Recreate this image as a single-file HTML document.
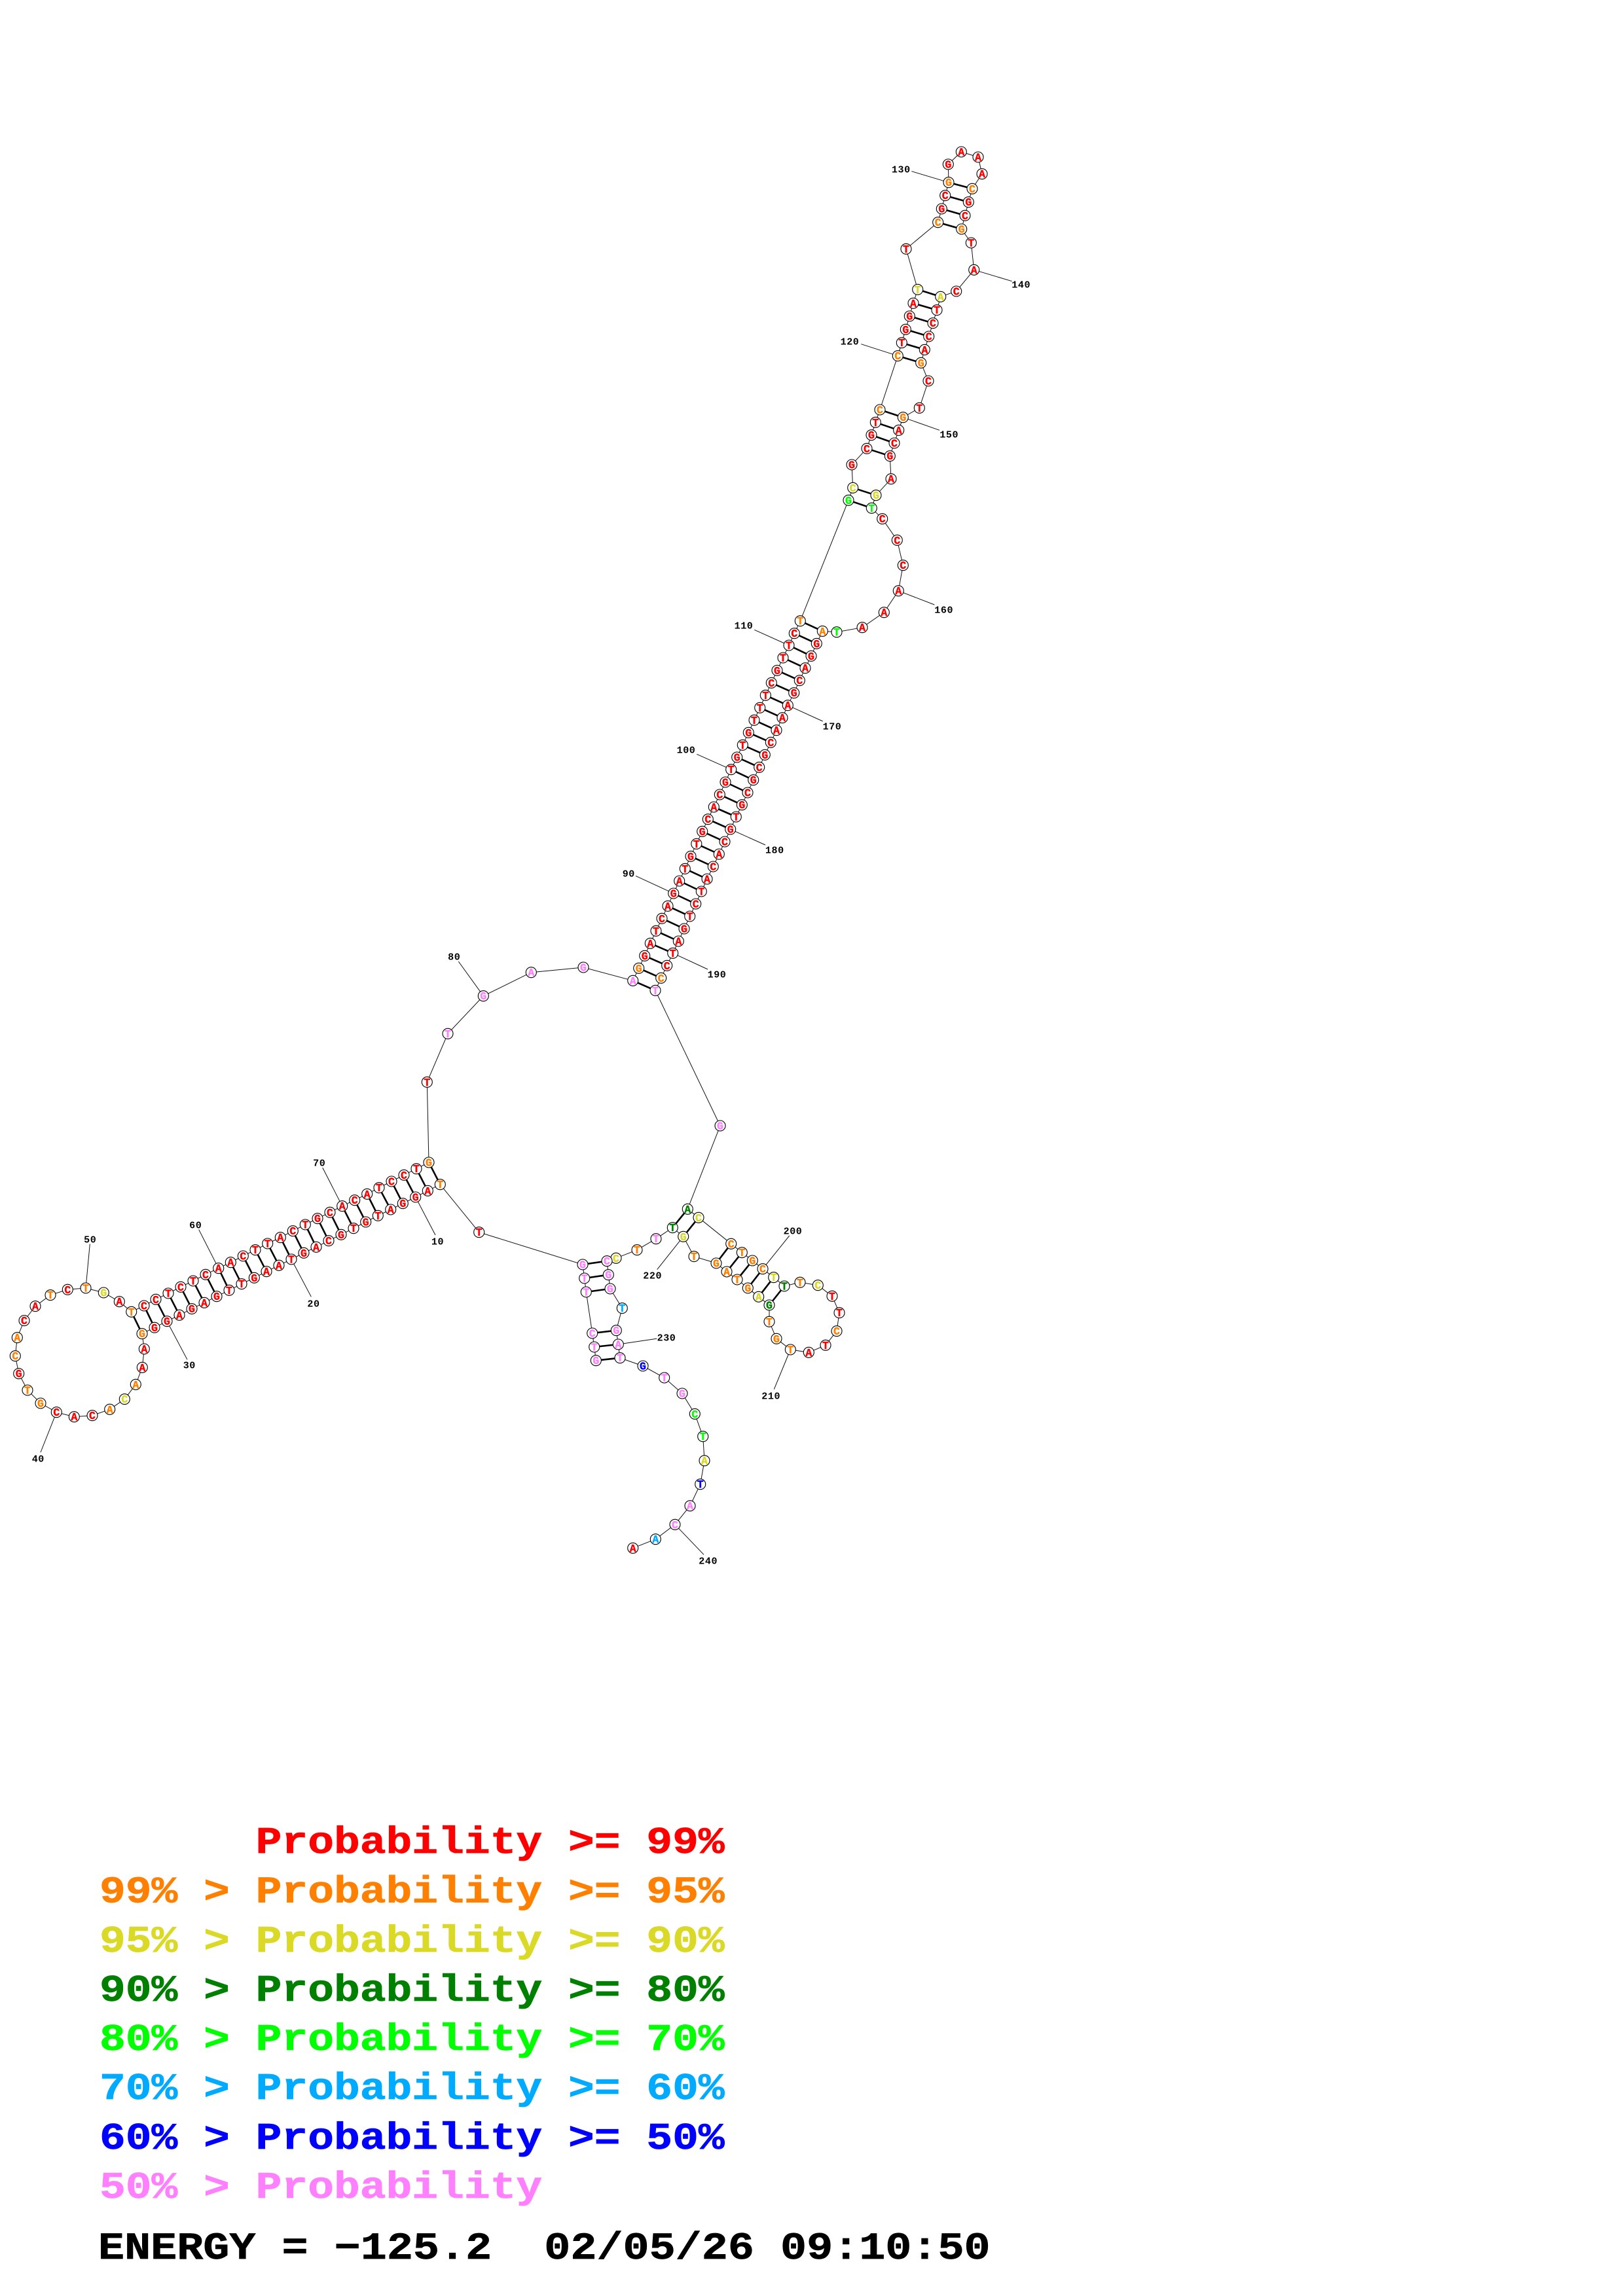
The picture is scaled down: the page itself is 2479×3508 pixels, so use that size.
<!DOCTYPE html>
<html><head><meta charset="utf-8"><title>RNA structure</title>
<style>
html,body{margin:0;padding:0;background:#fff}
svg{display:block}
.bb{fill:none;stroke:#111;stroke-width:1}
.bp{fill:none;stroke:#000;stroke-width:2.6}
.ld{fill:none;stroke:#111;stroke-width:1}
.cc circle{fill:#fff;stroke:#000;stroke-width:1.1}
.nt text{font:bold 16.5px "Liberation Mono",monospace;text-anchor:middle;fill:#f00;stroke:#f00;stroke-width:.4}
.nt .o{fill:#ff8000;stroke:#ff8000}.nt .y{fill:#d9d926;stroke:#d9d926}.nt .d{fill:#008000;stroke:#008000}.nt .g{fill:#0f0;stroke:#0f0}.nt .c{fill:#0af;stroke:#0af}.nt .b{fill:#00f;stroke:#00f}.nt .p{fill:#ff80ff;stroke:#ff80ff}
.lb text{font:bold 15px "Liberation Mono",monospace;letter-spacing:.6px;text-anchor:middle;fill:#000}
.lg text{font:bold 66.3px "Liberation Mono",monospace;white-space:pre;stroke-width:.8}
.lg text.en{font-size:66.8px}
</style></head><body>
<svg xmlns="http://www.w3.org/2000/svg" width="2479" height="3508" viewBox="0 0 2479 3508">
<rect width="2479" height="3508" fill="#fff"/>
<polyline class="bb" points="910.3,2078.7 907.7,2058 904.7,2037 895.3,1974 892.7,1953 890,1932 731.7,1882.7 672.3,1809.7 653.3,1819.3 634.7,1829 615.3,1838.7 596.7,1848 577.3,1857.3 558.7,1867 540,1876.7 521,1886.3 502,1895.7 483,1905.3 464,1914.3 445,1924 426,1933.3 407,1942.7 388.3,1952.3 369,1961.7 350,1971.3 331,1980.7 312,1990.3 293,1999.7 274,2009.3 255,2018.7 236,2028.3 217,2037.7 220.3,2061 217.3,2089.3 207.3,2115.3 190.3,2137.7 167.7,2153.3 141,2162.7 113.3,2164.7 86.3,2157.7 62,2144 42,2124 28.7,2098.7 23.3,2071.7 26.3,2043.7 37,2017.7 54,1995.7 77,1978.7 103.3,1970.3 131,1968 158.3,1975 182.3,1988.7 200.7,2004.3 220,1995 238,1985.3 257,1976 276,1966.3 295,1957 314,1947.3 333.7,1937.7 352.3,1928.7 371.3,1919 390,1909.7 408.7,1900 428.3,1890.7 447.3,1880.7 466.3,1871 485,1861.7 504,1852.3 522.7,1842.7 541.7,1833.7 560.7,1824.3 579,1814.7 598,1805 617,1795.3 636,1785.7 655,1776 652.3,1653.3 684,1579.3 738.3,1521.7 811.3,1485.7 891,1478 966.7,1498.3 975.7,1479.3 984.7,1460.3 993.3,1441.3 1002,1422.3 1011,1403.3 1020,1384.3 1028.7,1365 1037.7,1346 1046.3,1327.3 1055,1308.3 1063.8,1289.3 1072.7,1270.3 1081.3,1251.7 1090.3,1233 1099.3,1214 1108,1195 1116.7,1175.7 1125.7,1157 1134.3,1138.3 1143.3,1119.3 1152,1100.3 1160.7,1081.3 1169.3,1062.3 1178.3,1043.3 1187,1024.3 1196,1005 1205,986 1213.3,967.7 1222.3,948.7 1296,764.3 1302.7,745.3 1301,710 1324,685.3 1331,664.7 1337.3,645.3 1344,626 1371.3,543.7 1377.3,523.7 1383.3,503.3 1389.3,483 1395,463.3 1401.7,442.3 1384,380.3 1432.7,339.7 1438.3,319 1443.7,298.7 1449,278.7 1448.3,251 1468.3,232 1494,240 1500,265.7 1485,288.3 1479.3,308.7 1474,329.3 1468.7,350 1483.3,371 1487.7,412.3 1460.7,445 1436.7,453.3 1431,473.7 1425,493.7 1418.7,514 1412.3,534.3 1406.7,554.3 1418,582 1404.3,623.3 1379.3,637.7 1372.7,657.3 1366,677 1359.3,696.7 1361,731.7 1338,756.7 1331.3,776.3 1347.7,792.7 1370.3,825.3 1379.3,863.7 1372.3,902.7 1350.3,935.7 1317,958.7 1278,965.7 1256.3,964.3 1247.3,983.3 1239,1002.3 1230,1020.7 1221.3,1039.7 1212.7,1058.7 1203.3,1077.7 1195,1096.7 1186,1115.7 1177.3,1134.3 1168.3,1153.3 1159.7,1172.3 1150.7,1191.7 1142,1211 1133.3,1229.7 1124.3,1248 1115.7,1267 1107,1286 1098.3,1305 1089.3,1324 1080,1343 1071.3,1362 1062.7,1381 1053.7,1400 1045,1419 1036.3,1438 1027.7,1456.3 1018.7,1475.3 1009.7,1494.3 1001,1513.3 1100,1720 1050.3,1847.3 1067,1860.3 1116.7,1900.3 1133.3,1913.7 1149.3,1926 1165,1938.7 1181.7,1951.7 1198,1965 1222,1959.3 1249.3,1963.7 1271,1980.3 1282,2005.7 1278,2033.7 1261,2055.3 1235.3,2066.3 1207.3,2062 1186,2045.3 1175,2019.3 1175,1994 1158.7,1981.3 1142.3,1968 1126,1955 1110,1943 1094,1930 1060,1919.7 1043.7,1889.3 1027.3,1875.7 1002,1892.7 973,1909.7 941,1922.3 927,1926.7 929.3,1947.7 932,1969 950.3,1998.7 941.3,2032.7 944.3,2054 947,2074.7 982,2087 1014.7,2105 1042,2129 1061.3,2160.3 1073.7,2194.7 1076,2231.7 1069.7,2267.7 1054,2300.7 1031,2329.3 1001.3,2351.7 966.7,2365.3"/>
<path class="bp" d="M910.3 2078.7L947 2074.7M907.7 2058L944.3 2054M904.7 2037L941.3 2032.7M895.3 1974L932 1969M892.7 1953L929.3 1947.7M890 1932L927 1926.7M672.3 1809.7L655 1776M653.3 1819.3L636 1785.7M634.7 1829L617 1795.3M615.3 1838.7L598 1805M596.7 1848L579 1814.7M577.3 1857.3L560.7 1824.3M558.7 1867L541.7 1833.7M540 1876.7L522.7 1842.7M521 1886.3L504 1852.3M502 1895.7L485 1861.7M483 1905.3L466.3 1871M464 1914.3L447.3 1880.7M445 1924L428.3 1890.7M426 1933.3L408.7 1900M407 1942.7L390 1909.7M388.3 1952.3L371.3 1919M369 1961.7L352.3 1928.7M350 1971.3L333.7 1937.7M331 1980.7L314 1947.3M312 1990.3L295 1957M293 1999.7L276 1966.3M274 2009.3L257 1976M255 2018.7L238 1985.3M236 2028.3L220 1995M217 2037.7L200.7 2004.3M966.7 1498.3L1001 1513.3M975.7 1479.3L1009.7 1494.3M984.7 1460.3L1018.7 1475.3M993.3 1441.3L1027.7 1456.3M1002 1422.3L1036.3 1438M1011 1403.3L1045 1419M1020 1384.3L1053.7 1400M1028.7 1365L1062.7 1381M1037.7 1346L1071.3 1362M1046.3 1327.3L1080 1343M1055 1308.3L1089.3 1324M1063.8 1289.3L1098.3 1305M1072.7 1270.3L1107 1286M1081.3 1251.7L1115.7 1267M1090.3 1233L1124.3 1248M1099.3 1214L1133.3 1229.7M1108 1195L1142 1211M1116.7 1175.7L1150.7 1191.7M1125.7 1157L1159.7 1172.3M1134.3 1138.3L1168.3 1153.3M1143.3 1119.3L1177.3 1134.3M1152 1100.3L1186 1115.7M1160.7 1081.3L1195 1096.7M1169.3 1062.3L1203.3 1077.7M1178.3 1043.3L1212.7 1058.7M1187 1024.3L1221.3 1039.7M1196 1005L1230 1020.7M1205 986L1239 1002.3M1213.3 967.7L1247.3 983.3M1222.3 948.7L1256.3 964.3M1296 764.3L1331.3 776.3M1302.7 745.3L1338 756.7M1324 685.3L1359.3 696.7M1331 664.7L1366 677M1337.3 645.3L1372.7 657.3M1344 626L1379.3 637.7M1371.3 543.7L1406.7 554.3M1377.3 523.7L1412.3 534.3M1383.3 503.3L1418.7 514M1389.3 483L1425 493.7M1395 463.3L1431 473.7M1401.7 442.3L1436.7 453.3M1432.7 339.7L1468.7 350M1438.3 319L1474 329.3M1443.7 298.7L1479.3 308.7M1449 278.7L1485 288.3M1050.3 1847.3L1027.3 1875.7M1067 1860.3L1043.7 1889.3M1116.7 1900.3L1094 1930M1133.3 1913.7L1110 1943M1149.3 1926L1126 1955M1165 1938.7L1142.3 1968M1181.7 1951.7L1158.7 1981.3M1198 1965L1175 1994"/>
<path class="ld" d="M1449 278.7L1392.3 261.7M1371.3 543.7L1315.3 525.7M1487.7 412.3L1545.7 429.7M1379.3 637.7L1435 657.3M1372.3 902.7L1427.3 924M1205 986L1152.3 962.3M1203.3 1077.7L1256.7 1102M1115.7 1267L1169 1291M1116.7 1175.7L1064.3 1152.3M1028.7 1365L971 1338.3M1027.7 1456.3L1081 1481M738.3 1521.7L700.3 1469M634.7 1829L665 1887M522.7 1842.7L492.7 1784M445 1924L475.3 1981.3M333.7 1937.7L303.7 1878.7M131 1968L137.3 1900.7M255 2018.7L286 2077.3M86.3 2157.7L62 2219M1165 1938.7L1205.7 1888M1043.7 1889.3L1003.7 1939.7M944.3 2054L1003.3 2045.3M1207.3 2062L1182.3 2122.7M1031 2329.3L1075 2375.3"/>
<g class="cc">
<circle cx="910.3" cy="2078.7" r="8"/><circle cx="907.7" cy="2058" r="8"/><circle cx="904.7" cy="2037" r="8"/><circle cx="895.3" cy="1974" r="8"/><circle cx="892.7" cy="1953" r="8"/><circle cx="890" cy="1932" r="8"/><circle cx="731.7" cy="1882.7" r="8"/><circle cx="672.3" cy="1809.7" r="8"/><circle cx="653.3" cy="1819.3" r="8"/><circle cx="634.7" cy="1829" r="8"/><circle cx="615.3" cy="1838.7" r="8"/><circle cx="596.7" cy="1848" r="8"/><circle cx="577.3" cy="1857.3" r="8"/><circle cx="558.7" cy="1867" r="8"/><circle cx="540" cy="1876.7" r="8"/><circle cx="521" cy="1886.3" r="8"/><circle cx="502" cy="1895.7" r="8"/><circle cx="483" cy="1905.3" r="8"/><circle cx="464" cy="1914.3" r="8"/><circle cx="445" cy="1924" r="8"/><circle cx="426" cy="1933.3" r="8"/><circle cx="407" cy="1942.7" r="8"/><circle cx="388.3" cy="1952.3" r="8"/><circle cx="369" cy="1961.7" r="8"/><circle cx="350" cy="1971.3" r="8"/><circle cx="331" cy="1980.7" r="8"/><circle cx="312" cy="1990.3" r="8"/><circle cx="293" cy="1999.7" r="8"/><circle cx="274" cy="2009.3" r="8"/><circle cx="255" cy="2018.7" r="8"/><circle cx="236" cy="2028.3" r="8"/><circle cx="217" cy="2037.7" r="8"/><circle cx="220.3" cy="2061" r="8"/><circle cx="217.3" cy="2089.3" r="8"/><circle cx="207.3" cy="2115.3" r="8"/><circle cx="190.3" cy="2137.7" r="8"/><circle cx="167.7" cy="2153.3" r="8"/><circle cx="141" cy="2162.7" r="8"/><circle cx="113.3" cy="2164.7" r="8"/><circle cx="86.3" cy="2157.7" r="8"/><circle cx="62" cy="2144" r="8"/><circle cx="42" cy="2124" r="8"/><circle cx="28.7" cy="2098.7" r="8"/><circle cx="23.3" cy="2071.7" r="8"/><circle cx="26.3" cy="2043.7" r="8"/><circle cx="37" cy="2017.7" r="8"/><circle cx="54" cy="1995.7" r="8"/><circle cx="77" cy="1978.7" r="8"/><circle cx="103.3" cy="1970.3" r="8"/><circle cx="131" cy="1968" r="8"/><circle cx="158.3" cy="1975" r="8"/><circle cx="182.3" cy="1988.7" r="8"/><circle cx="200.7" cy="2004.3" r="8"/><circle cx="220" cy="1995" r="8"/><circle cx="238" cy="1985.3" r="8"/><circle cx="257" cy="1976" r="8"/><circle cx="276" cy="1966.3" r="8"/><circle cx="295" cy="1957" r="8"/><circle cx="314" cy="1947.3" r="8"/><circle cx="333.7" cy="1937.7" r="8"/><circle cx="352.3" cy="1928.7" r="8"/><circle cx="371.3" cy="1919" r="8"/><circle cx="390" cy="1909.7" r="8"/><circle cx="408.7" cy="1900" r="8"/><circle cx="428.3" cy="1890.7" r="8"/><circle cx="447.3" cy="1880.7" r="8"/><circle cx="466.3" cy="1871" r="8"/><circle cx="485" cy="1861.7" r="8"/><circle cx="504" cy="1852.3" r="8"/><circle cx="522.7" cy="1842.7" r="8"/><circle cx="541.7" cy="1833.7" r="8"/><circle cx="560.7" cy="1824.3" r="8"/><circle cx="579" cy="1814.7" r="8"/><circle cx="598" cy="1805" r="8"/><circle cx="617" cy="1795.3" r="8"/><circle cx="636" cy="1785.7" r="8"/><circle cx="655" cy="1776" r="8"/><circle cx="652.3" cy="1653.3" r="8"/><circle cx="684" cy="1579.3" r="8"/><circle cx="738.3" cy="1521.7" r="8"/><circle cx="811.3" cy="1485.7" r="8"/><circle cx="891" cy="1478" r="8"/><circle cx="966.7" cy="1498.3" r="8"/><circle cx="975.7" cy="1479.3" r="8"/><circle cx="984.7" cy="1460.3" r="8"/><circle cx="993.3" cy="1441.3" r="8"/><circle cx="1002" cy="1422.3" r="8"/><circle cx="1011" cy="1403.3" r="8"/><circle cx="1020" cy="1384.3" r="8"/><circle cx="1028.7" cy="1365" r="8"/><circle cx="1037.7" cy="1346" r="8"/><circle cx="1046.3" cy="1327.3" r="8"/><circle cx="1055" cy="1308.3" r="8"/><circle cx="1063.8" cy="1289.3" r="8"/><circle cx="1072.7" cy="1270.3" r="8"/><circle cx="1081.3" cy="1251.7" r="8"/><circle cx="1090.3" cy="1233" r="8"/><circle cx="1099.3" cy="1214" r="8"/><circle cx="1108" cy="1195" r="8"/><circle cx="1116.7" cy="1175.7" r="8"/><circle cx="1125.7" cy="1157" r="8"/><circle cx="1134.3" cy="1138.3" r="8"/><circle cx="1143.3" cy="1119.3" r="8"/><circle cx="1152" cy="1100.3" r="8"/><circle cx="1160.7" cy="1081.3" r="8"/><circle cx="1169.3" cy="1062.3" r="8"/><circle cx="1178.3" cy="1043.3" r="8"/><circle cx="1187" cy="1024.3" r="8"/><circle cx="1196" cy="1005" r="8"/><circle cx="1205" cy="986" r="8"/><circle cx="1213.3" cy="967.7" r="8"/><circle cx="1222.3" cy="948.7" r="8"/><circle cx="1296" cy="764.3" r="8"/><circle cx="1302.7" cy="745.3" r="8"/><circle cx="1301" cy="710" r="8"/><circle cx="1324" cy="685.3" r="8"/><circle cx="1331" cy="664.7" r="8"/><circle cx="1337.3" cy="645.3" r="8"/><circle cx="1344" cy="626" r="8"/><circle cx="1371.3" cy="543.7" r="8"/><circle cx="1377.3" cy="523.7" r="8"/><circle cx="1383.3" cy="503.3" r="8"/><circle cx="1389.3" cy="483" r="8"/><circle cx="1395" cy="463.3" r="8"/><circle cx="1401.7" cy="442.3" r="8"/><circle cx="1384" cy="380.3" r="8"/><circle cx="1432.7" cy="339.7" r="8"/><circle cx="1438.3" cy="319" r="8"/><circle cx="1443.7" cy="298.7" r="8"/><circle cx="1449" cy="278.7" r="8"/><circle cx="1448.3" cy="251" r="8"/><circle cx="1468.3" cy="232" r="8"/><circle cx="1494" cy="240" r="8"/><circle cx="1500" cy="265.7" r="8"/><circle cx="1485" cy="288.3" r="8"/><circle cx="1479.3" cy="308.7" r="8"/><circle cx="1474" cy="329.3" r="8"/><circle cx="1468.7" cy="350" r="8"/><circle cx="1483.3" cy="371" r="8"/><circle cx="1487.7" cy="412.3" r="8"/><circle cx="1460.7" cy="445" r="8"/><circle cx="1436.7" cy="453.3" r="8"/><circle cx="1431" cy="473.7" r="8"/><circle cx="1425" cy="493.7" r="8"/><circle cx="1418.7" cy="514" r="8"/><circle cx="1412.3" cy="534.3" r="8"/><circle cx="1406.7" cy="554.3" r="8"/><circle cx="1418" cy="582" r="8"/><circle cx="1404.3" cy="623.3" r="8"/><circle cx="1379.3" cy="637.7" r="8"/><circle cx="1372.7" cy="657.3" r="8"/><circle cx="1366" cy="677" r="8"/><circle cx="1359.3" cy="696.7" r="8"/><circle cx="1361" cy="731.7" r="8"/><circle cx="1338" cy="756.7" r="8"/><circle cx="1331.3" cy="776.3" r="8"/><circle cx="1347.7" cy="792.7" r="8"/><circle cx="1370.3" cy="825.3" r="8"/><circle cx="1379.3" cy="863.7" r="8"/><circle cx="1372.3" cy="902.7" r="8"/><circle cx="1350.3" cy="935.7" r="8"/><circle cx="1317" cy="958.7" r="8"/><circle cx="1278" cy="965.7" r="8"/><circle cx="1256.3" cy="964.3" r="8"/><circle cx="1247.3" cy="983.3" r="8"/><circle cx="1239" cy="1002.3" r="8"/><circle cx="1230" cy="1020.7" r="8"/><circle cx="1221.3" cy="1039.7" r="8"/><circle cx="1212.7" cy="1058.7" r="8"/><circle cx="1203.3" cy="1077.7" r="8"/><circle cx="1195" cy="1096.7" r="8"/><circle cx="1186" cy="1115.7" r="8"/><circle cx="1177.3" cy="1134.3" r="8"/><circle cx="1168.3" cy="1153.3" r="8"/><circle cx="1159.7" cy="1172.3" r="8"/><circle cx="1150.7" cy="1191.7" r="8"/><circle cx="1142" cy="1211" r="8"/><circle cx="1133.3" cy="1229.7" r="8"/><circle cx="1124.3" cy="1248" r="8"/><circle cx="1115.7" cy="1267" r="8"/><circle cx="1107" cy="1286" r="8"/><circle cx="1098.3" cy="1305" r="8"/><circle cx="1089.3" cy="1324" r="8"/><circle cx="1080" cy="1343" r="8"/><circle cx="1071.3" cy="1362" r="8"/><circle cx="1062.7" cy="1381" r="8"/><circle cx="1053.7" cy="1400" r="8"/><circle cx="1045" cy="1419" r="8"/><circle cx="1036.3" cy="1438" r="8"/><circle cx="1027.7" cy="1456.3" r="8"/><circle cx="1018.7" cy="1475.3" r="8"/><circle cx="1009.7" cy="1494.3" r="8"/><circle cx="1001" cy="1513.3" r="8"/><circle cx="1100" cy="1720" r="8"/><circle cx="1050.3" cy="1847.3" r="8"/><circle cx="1067" cy="1860.3" r="8"/><circle cx="1116.7" cy="1900.3" r="8"/><circle cx="1133.3" cy="1913.7" r="8"/><circle cx="1149.3" cy="1926" r="8"/><circle cx="1165" cy="1938.7" r="8"/><circle cx="1181.7" cy="1951.7" r="8"/><circle cx="1198" cy="1965" r="8"/><circle cx="1222" cy="1959.3" r="8"/><circle cx="1249.3" cy="1963.7" r="8"/><circle cx="1271" cy="1980.3" r="8"/><circle cx="1282" cy="2005.7" r="8"/><circle cx="1278" cy="2033.7" r="8"/><circle cx="1261" cy="2055.3" r="8"/><circle cx="1235.3" cy="2066.3" r="8"/><circle cx="1207.3" cy="2062" r="8"/><circle cx="1186" cy="2045.3" r="8"/><circle cx="1175" cy="2019.3" r="8"/><circle cx="1175" cy="1994" r="8"/><circle cx="1158.7" cy="1981.3" r="8"/><circle cx="1142.3" cy="1968" r="8"/><circle cx="1126" cy="1955" r="8"/><circle cx="1110" cy="1943" r="8"/><circle cx="1094" cy="1930" r="8"/><circle cx="1060" cy="1919.7" r="8"/><circle cx="1043.7" cy="1889.3" r="8"/><circle cx="1027.3" cy="1875.7" r="8"/><circle cx="1002" cy="1892.7" r="8"/><circle cx="973" cy="1909.7" r="8"/><circle cx="941" cy="1922.3" r="8"/><circle cx="927" cy="1926.7" r="8"/><circle cx="929.3" cy="1947.7" r="8"/><circle cx="932" cy="1969" r="8"/><circle cx="950.3" cy="1998.7" r="8"/><circle cx="941.3" cy="2032.7" r="8"/><circle cx="944.3" cy="2054" r="8"/><circle cx="947" cy="2074.7" r="8"/><circle cx="982" cy="2087" r="8"/><circle cx="1014.7" cy="2105" r="8"/><circle cx="1042" cy="2129" r="8"/><circle cx="1061.3" cy="2160.3" r="8"/><circle cx="1073.7" cy="2194.7" r="8"/><circle cx="1076" cy="2231.7" r="8"/><circle cx="1069.7" cy="2267.7" r="8"/><circle cx="1054" cy="2300.7" r="8"/><circle cx="1031" cy="2329.3" r="8"/><circle cx="1001.3" cy="2351.7" r="8"/><circle cx="966.7" cy="2365.3" r="8"/>
</g>
<g class="nt" transform="translate(0,5.5)">
<text x="910.3" y="2078.7" class="p">G</text><text x="907.7" y="2058" class="p">T</text><text x="904.7" y="2037" class="p">C</text><text x="895.3" y="1974" class="p">T</text><text x="892.7" y="1953" class="p">T</text><text x="890" y="1932" class="p">G</text><text x="731.7" y="1882.7">T</text><text x="672.3" y="1809.7" class="o">T</text><text x="653.3" y="1819.3">A</text><text x="634.7" y="1829">G</text>
<text x="615.3" y="1838.7">G</text><text x="596.7" y="1848">A</text><text x="577.3" y="1857.3">T</text><text x="558.7" y="1867">G</text><text x="540" y="1876.7">T</text><text x="521" y="1886.3">G</text><text x="502" y="1895.7">C</text><text x="483" y="1905.3">A</text><text x="464" y="1914.3">G</text><text x="445" y="1924">T</text>
<text x="426" y="1933.3">A</text><text x="407" y="1942.7">A</text><text x="388.3" y="1952.3">G</text><text x="369" y="1961.7">T</text><text x="350" y="1971.3">T</text><text x="331" y="1980.7">G</text><text x="312" y="1990.3">A</text><text x="293" y="1999.7">G</text><text x="274" y="2009.3">A</text><text x="255" y="2018.7">G</text>
<text x="236" y="2028.3">G</text><text x="217" y="2037.7" class="o">G</text><text x="220.3" y="2061">A</text><text x="217.3" y="2089.3">A</text><text x="207.3" y="2115.3" class="o">A</text><text x="190.3" y="2137.7" class="y">C</text><text x="167.7" y="2153.3" class="o">A</text><text x="141" y="2162.7">C</text><text x="113.3" y="2164.7">A</text><text x="86.3" y="2157.7">C</text>
<text x="62" y="2144" class="o">G</text><text x="42" y="2124" class="o">T</text><text x="28.7" y="2098.7">G</text><text x="23.3" y="2071.7" class="o">C</text><text x="26.3" y="2043.7" class="o">A</text><text x="37" y="2017.7">C</text><text x="54" y="1995.7">A</text><text x="77" y="1978.7" class="o">T</text><text x="103.3" y="1970.3">C</text><text x="131" y="1968" class="o">T</text>
<text x="158.3" y="1975" class="y">G</text><text x="182.3" y="1988.7">A</text><text x="200.7" y="2004.3" class="o">T</text><text x="220" y="1995">C</text><text x="238" y="1985.3">C</text><text x="257" y="1976">T</text><text x="276" y="1966.3">C</text><text x="295" y="1957">T</text><text x="314" y="1947.3">C</text><text x="333.7" y="1937.7">A</text>
<text x="352.3" y="1928.7">A</text><text x="371.3" y="1919">C</text><text x="390" y="1909.7">T</text><text x="408.7" y="1900">T</text><text x="428.3" y="1890.7">A</text><text x="447.3" y="1880.7">C</text><text x="466.3" y="1871">T</text><text x="485" y="1861.7">G</text><text x="504" y="1852.3">C</text><text x="522.7" y="1842.7">A</text>
<text x="541.7" y="1833.7">C</text><text x="560.7" y="1824.3">A</text><text x="579" y="1814.7">T</text><text x="598" y="1805">C</text><text x="617" y="1795.3">C</text><text x="636" y="1785.7">T</text><text x="655" y="1776" class="o">G</text><text x="652.3" y="1653.3">T</text><text x="684" y="1579.3" class="p">T</text><text x="738.3" y="1521.7" class="p">G</text>
<text x="811.3" y="1485.7" class="p">A</text><text x="891" y="1478" class="p">G</text><text x="966.7" y="1498.3" class="p">A</text><text x="975.7" y="1479.3" class="o">G</text><text x="984.7" y="1460.3">G</text><text x="993.3" y="1441.3">A</text><text x="1002" y="1422.3">T</text><text x="1011" y="1403.3">C</text><text x="1020" y="1384.3">A</text><text x="1028.7" y="1365">G</text>
<text x="1037.7" y="1346">A</text><text x="1046.3" y="1327.3">T</text><text x="1055" y="1308.3">G</text><text x="1063.8" y="1289.3">T</text><text x="1072.7" y="1270.3">G</text><text x="1081.3" y="1251.7">C</text><text x="1090.3" y="1233">A</text><text x="1099.3" y="1214">C</text><text x="1108" y="1195">G</text><text x="1116.7" y="1175.7">T</text>
<text x="1125.7" y="1157">G</text><text x="1134.3" y="1138.3">T</text><text x="1143.3" y="1119.3">G</text><text x="1152" y="1100.3">T</text><text x="1160.7" y="1081.3">T</text><text x="1169.3" y="1062.3">T</text><text x="1178.3" y="1043.3">C</text><text x="1187" y="1024.3">G</text><text x="1196" y="1005">T</text><text x="1205" y="986">T</text>
<text x="1213.3" y="967.7">C</text><text x="1222.3" y="948.7" class="o">T</text><text x="1296" y="764.3" class="g">G</text><text x="1302.7" y="745.3" class="y">C</text><text x="1301" y="710">G</text><text x="1324" y="685.3">C</text><text x="1331" y="664.7">G</text><text x="1337.3" y="645.3">T</text><text x="1344" y="626" class="o">C</text><text x="1371.3" y="543.7" class="o">C</text>
<text x="1377.3" y="523.7">T</text><text x="1383.3" y="503.3">G</text><text x="1389.3" y="483">G</text><text x="1395" y="463.3">A</text><text x="1401.7" y="442.3" class="y">T</text><text x="1384" y="380.3">T</text><text x="1432.7" y="339.7" class="o">C</text><text x="1438.3" y="319">G</text><text x="1443.7" y="298.7">C</text><text x="1449" y="278.7" class="o">G</text>
<text x="1448.3" y="251">G</text><text x="1468.3" y="232">A</text><text x="1494" y="240">A</text><text x="1500" y="265.7">A</text><text x="1485" y="288.3" class="o">C</text><text x="1479.3" y="308.7">G</text><text x="1474" y="329.3">C</text><text x="1468.7" y="350" class="o">G</text><text x="1483.3" y="371">T</text><text x="1487.7" y="412.3">A</text>
<text x="1460.7" y="445">C</text><text x="1436.7" y="453.3" class="y">A</text><text x="1431" y="473.7">T</text><text x="1425" y="493.7">C</text><text x="1418.7" y="514">C</text><text x="1412.3" y="534.3">A</text><text x="1406.7" y="554.3" class="o">G</text><text x="1418" y="582">C</text><text x="1404.3" y="623.3">T</text><text x="1379.3" y="637.7" class="o">G</text>
<text x="1372.7" y="657.3">A</text><text x="1366" y="677">C</text><text x="1359.3" y="696.7">G</text><text x="1361" y="731.7">A</text><text x="1338" y="756.7" class="y">G</text><text x="1331.3" y="776.3" class="g">T</text><text x="1347.7" y="792.7">C</text><text x="1370.3" y="825.3">C</text><text x="1379.3" y="863.7">C</text><text x="1372.3" y="902.7">A</text>
<text x="1350.3" y="935.7">A</text><text x="1317" y="958.7">A</text><text x="1278" y="965.7" class="g">T</text><text x="1256.3" y="964.3" class="o">A</text><text x="1247.3" y="983.3">G</text><text x="1239" y="1002.3">G</text><text x="1230" y="1020.7">A</text><text x="1221.3" y="1039.7">C</text><text x="1212.7" y="1058.7">G</text><text x="1203.3" y="1077.7">A</text>
<text x="1195" y="1096.7">A</text><text x="1186" y="1115.7">A</text><text x="1177.3" y="1134.3">C</text><text x="1168.3" y="1153.3">G</text><text x="1159.7" y="1172.3">C</text><text x="1150.7" y="1191.7">G</text><text x="1142" y="1211">C</text><text x="1133.3" y="1229.7">G</text><text x="1124.3" y="1248">T</text><text x="1115.7" y="1267">G</text>
<text x="1107" y="1286">C</text><text x="1098.3" y="1305">A</text><text x="1089.3" y="1324">C</text><text x="1080" y="1343">A</text><text x="1071.3" y="1362">T</text><text x="1062.7" y="1381">C</text><text x="1053.7" y="1400">T</text><text x="1045" y="1419">G</text><text x="1036.3" y="1438">A</text><text x="1027.7" y="1456.3">T</text>
<text x="1018.7" y="1475.3">C</text><text x="1009.7" y="1494.3" class="o">C</text><text x="1001" y="1513.3" class="p">T</text><text x="1100" y="1720" class="p">G</text><text x="1050.3" y="1847.3" class="d">A</text><text x="1067" y="1860.3" class="y">C</text><text x="1116.7" y="1900.3" class="o">C</text><text x="1133.3" y="1913.7" class="o">T</text><text x="1149.3" y="1926" class="o">G</text><text x="1165" y="1938.7" class="o">C</text>
<text x="1181.7" y="1951.7" class="y">T</text><text x="1198" y="1965" class="d">T</text><text x="1222" y="1959.3" class="o">T</text><text x="1249.3" y="1963.7" class="y">C</text><text x="1271" y="1980.3">T</text><text x="1282" y="2005.7">T</text><text x="1278" y="2033.7" class="o">C</text><text x="1261" y="2055.3">T</text><text x="1235.3" y="2066.3">A</text><text x="1207.3" y="2062" class="o">T</text>
<text x="1186" y="2045.3" class="o">G</text><text x="1175" y="2019.3" class="o">T</text><text x="1175" y="1994" class="d">G</text><text x="1158.7" y="1981.3" class="y">A</text><text x="1142.3" y="1968" class="o">G</text><text x="1126" y="1955" class="o">T</text><text x="1110" y="1943" class="o">A</text><text x="1094" y="1930" class="o">G</text><text x="1060" y="1919.7" class="o">T</text><text x="1043.7" y="1889.3" class="y">G</text>
<text x="1027.3" y="1875.7" class="d">T</text><text x="1002" y="1892.7" class="p">T</text><text x="973" y="1909.7" class="o">T</text><text x="941" y="1922.3" class="y">C</text><text x="927" y="1926.7" class="p">C</text><text x="929.3" y="1947.7" class="p">G</text><text x="932" y="1969" class="p">G</text><text x="950.3" y="1998.7" class="c">T</text><text x="941.3" y="2032.7" class="p">G</text><text x="944.3" y="2054" class="p">A</text>
<text x="947" y="2074.7" class="p">T</text><text x="982" y="2087" class="b">G</text><text x="1014.7" y="2105" class="p">T</text><text x="1042" y="2129" class="p">G</text><text x="1061.3" y="2160.3" class="g">C</text><text x="1073.7" y="2194.7" class="g">T</text><text x="1076" y="2231.7" class="y">A</text><text x="1069.7" y="2267.7" class="b">T</text><text x="1054" y="2300.7" class="p">A</text><text x="1031" y="2329.3" class="p">C</text>
<text x="1001.3" y="2351.7" class="c">A</text><text x="966.7" y="2365.3">A</text>
</g>
<g class="lb" transform="translate(0,5)">
<text x="668.5" y="1896.5">10</text><text x="479" y="1991.3">20</text><text x="289.3" y="2085.3">30</text><text x="58.3" y="2228.3">40</text><text x="137.7" y="1893.3">50</text><text x="298.7" y="1871.7">60</text><text x="487.7" y="1776.3">70</text><text x="693.7" y="1461.3">80</text><text x="960.3" y="1334.3">90</text><text x="1048" y="1145.7">100</text><text x="1136" y="955.7">110</text><text x="1298" y="521.7">120</text><text x="1376.3" y="258.3">130</text><text x="1559.7" y="434.3">140</text><text x="1449.7" y="663.3">150</text><text x="1441.7" y="931.3">160</text><text x="1271" y="1109.3">170</text><text x="1183.3" y="1298.3">180</text><text x="1095" y="1488.3">190</text><text x="1211" y="1880.3">200</text><text x="1177.7" y="2132.3">210</text><text x="996.7" y="1948.3">220</text><text x="1018" y="2043.3">230</text><text x="1081.7" y="2384.3">240</text>
</g>
<g class="lg" transform="scale(1,.87)">
<text x="152" y="3254" fill="#f00" stroke="#f00">      Probability &gt;= 99%</text>
<text x="152" y="3340.8" fill="#ff8000" stroke="#ff8000">99% &gt; Probability &gt;= 95%</text>
<text x="152" y="3427.6" fill="#d9d926" stroke="#d9d926">95% &gt; Probability &gt;= 90%</text>
<text x="152" y="3513.8" fill="#008000" stroke="#008000">90% &gt; Probability &gt;= 80%</text>
<text x="152" y="3600" fill="#0f0" stroke="#0f0">80% &gt; Probability &gt;= 70%</text>
<text x="152" y="3686.2" fill="#0af" stroke="#0af">70% &gt; Probability &gt;= 60%</text>
<text x="152" y="3773.6" fill="#00f" stroke="#00f">60% &gt; Probability &gt;= 50%</text>
<text x="152" y="3859.8" fill="#ff80ff" stroke="#ff80ff">50% &gt; Probability</text>
<text class="en" x="150" y="3966.7" fill="#000" stroke="#000">ENERGY = −125.2  02/05/26 09:10:50</text>
</g>
</svg>
</body></html>
